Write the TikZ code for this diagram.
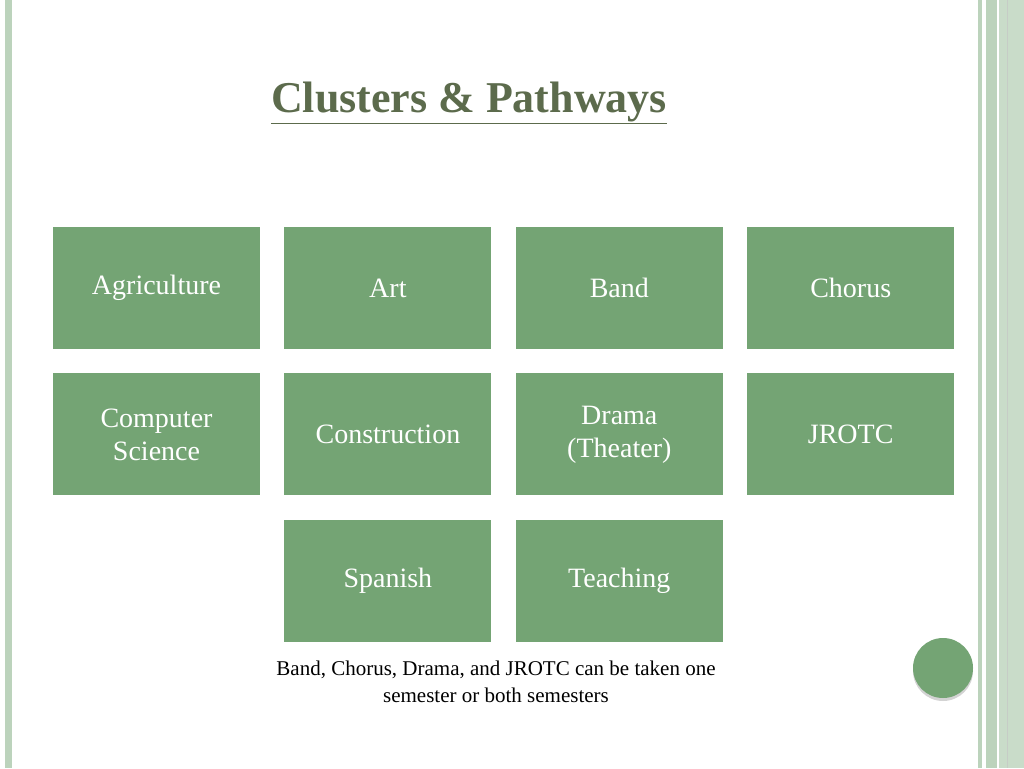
\documentclass[tikz,border=0pt]{standalone}
\usepackage{fontspec}
\setmainfont{Liberation Serif}
\usetikzlibrary{positioning,shadows}
\definecolor{boxgreen}{HTML}{74A474}
\definecolor{titleolive}{HTML}{5C6B4C}
\definecolor{stripe}{HTML}{BCD3BC}
\tikzset{
  box/.style={fill=boxgreen, minimum width=207pt, minimum height=122pt, inner sep=0pt,
    text=white, align=center, font=\fontsize{28}{33}\selectfont},
}
\begin{document}
\begin{tikzpicture}[x=1pt,y=-1pt]
\useasboundingbox (0,0) rectangle (1024,768);
% borders
\fill[stripe] (5,0) rectangle (12,768);
\fill[stripe] (978,0) rectangle (982,768);
\fill[stripe] (986,0) rectangle (997,768);
\fill[stripe!80] (999,0) rectangle (1024,768);
\draw[stripe!60!black!40, line width=0.6pt] (1007,0) -- (1007,768);

% title
\node (title) at (469,103) {\textcolor{titleolive}{\fontsize{44}{50}\selectfont\bfseries
  \underline{\textsc{Clusters \& Pathways}}}};

% clusters
\node[box] (ag) at (156.5,288) {Agriculture};
\node[box, right=24pt of ag] (art) {Art};
\node[box, right=24pt of art] (band) {Band};
\node[box, right=24pt of band] (chorus) {Chorus};
\node[box, below=24pt of ag] (cs) {Computer\\Science};
\node[box, right=24pt of cs] (constr) {Construction};
\node[box, right=24pt of constr] (drama) {Drama\\(Theater)};
\node[box, right=24pt of drama] (jrotc) {JROTC};
\node[box, below=24pt of constr] (span) {Spanish};
\node[box, right=24pt of span] (teach) {Teaching};

% note
\node[align=center, font=\fontsize{21}{27}\selectfont] (note) at (496,682)
  {Band, Chorus, Drama, and JROTC can be taken one\\semester or both semesters};

% dot
\fill[boxgreen, drop shadow={opacity=0.35, shadow xshift=0pt, shadow yshift=-3pt}] (943,668) circle (30);
\end{tikzpicture}
\end{document}
